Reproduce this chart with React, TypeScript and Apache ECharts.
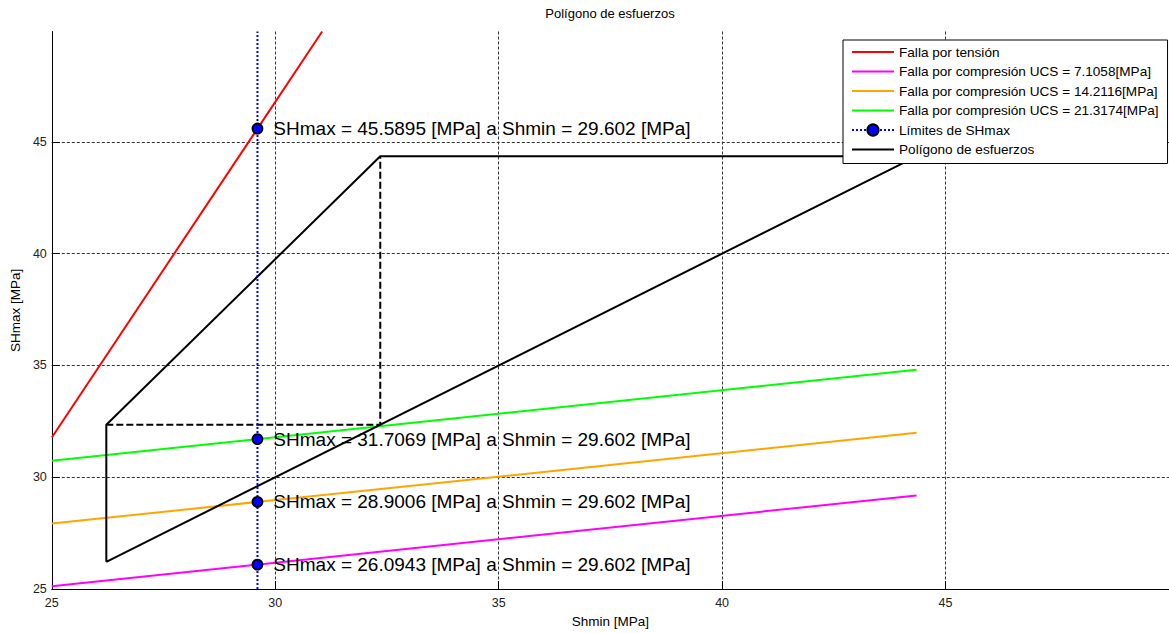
import React, { useEffect, useRef } from "react";
import * as echarts from "echarts";

// ---- data ----
const titleText = "Polígono de esfuerzos";
const xName = "Shmin [MPa]";
const yName = "SHmax [MPa]";
const xTicks = [25, 30, 35, 40, 45];
const yTicks = [25, 30, 35, 40, 45];
const xMin = 25;
const xMax = 50;
const yMin = 25;
const yMax = 49.93;

const tensionName = "Falla por tensión";
const tensionX = [25, 31.05];
const tensionY = [31.78, 49.93];

const compNames = [
  "Falla por compresión UCS = 7.1058[MPa]",
  "Falla por compresión UCS = 14.2116[MPa]",
  "Falla por compresión UCS = 21.3174[MPa]",
];
const compX = [25, 44.35];
const ucs7Y = [25.13, 29.19];
const ucs14Y = [27.93, 31.99];
const ucs21Y = [30.74, 34.81];
const compColors = ["#ff00ff", "#ffa500", "#00ff00"];

const limitsName = "Límites de SHmax";
const shminRef = 29.602;
const shmaxLimits = [26.0943, 28.9006, 31.7069, 45.5895];
const limitsLineY = [25, 49.93];

const polyName = "Polígono de esfuerzos";
const polyX = [26.22, 26.22, 32.35, 44.35, 26.22];
const polyY = [26.22, 32.35, 44.35, 44.35, 26.22];
const dashX = [26.22, 32.35, 32.35];
const dashY = [32.35, 32.35, 44.35];

const regionNames = ["FL", "FI", "FN"];
const regionX = [30.43, 33.04, 26.65];
const regionY = [39.55, 43.18, 29.88];

const FONT = "'Liberation Sans', Arial, Helvetica, sans-serif";
const LINE_ICON = "path://M0,0H42V2H0Z";

const pairs = (xs: number[], ys: number[]) => xs.map((x, i) => [x, ys[i]]);

export default function App() {
  const ref = useRef<HTMLDivElement>(null);

  useEffect(() => {
    if (!ref.current) return;
    const chart = echarts.init(ref.current, undefined, { renderer: "svg" });

    const limitsData: any[] = [
      { value: [shminRef, limitsLineY[0]], symbol: "none", label: { show: false } },
      ...shmaxLimits.map((v) => ({
        value: [shminRef, v],
        label: {
          show: true,
          position: "right",
          distance: 10,
          formatter: `SHmax = ${v} [MPa] a Shmin = ${shminRef} [MPa]`,
          fontSize: 19,
          color: "#000",
          fontFamily: FONT,
        },
      })),
      { value: [shminRef, limitsLineY[1]], symbol: "none", label: { show: false } },
    ];

    const compYs = [ucs7Y, ucs14Y, ucs21Y];

    const splitLine = {
      show: true,
      showMinLine: false,
      lineStyle: { type: [3, 2], color: "#333", width: 1 },
    };
    const tickStyle = { show: true, inside: true, length: 8, lineStyle: { color: "#000" } };

    chart.setOption({
      animation: false,
      textStyle: { fontFamily: FONT },
      title: {
        text: titleText,
        left: 610,
        top: 7,
        textAlign: "center",
        padding: 0,
        textStyle: { fontSize: 13, fontWeight: "normal", color: "#000", fontFamily: FONT },
      },
      grid: { left: 51.7, top: 31.5, width: (xMax - xMin) * 44.87, height: 561.8, containLabel: false },
      xAxis: {
        type: "value",
        min: xMin,
        max: xMax,
        interval: 5,
        name: xName,
        nameLocation: "middle",
        nameGap: 22,
        nameTextStyle: { fontSize: 13.5, color: "#000", fontFamily: FONT },
        axisLine: { show: true, lineStyle: { color: "#000", width: 1 } },
        axisTick: { ...tickStyle, customValues: xTicks },
        axisLabel: { margin: 7, fontSize: 12.5, color: "#222", customValues: xTicks, fontFamily: FONT },
        splitLine,
      },
      yAxis: {
        type: "value",
        min: yMin,
        max: yMax,
        interval: 5,
        name: yName,
        nameLocation: "middle",
        nameGap: 23,
        nameTextStyle: { fontSize: 13.5, color: "#000", fontFamily: FONT },
        axisLine: { show: true, lineStyle: { color: "#000", width: 1 } },
        axisTick: { ...tickStyle, customValues: yTicks },
        axisLabel: { margin: 5, fontSize: 12.5, color: "#222", customValues: yTicks, fontFamily: FONT },
        splitLine,
      },
      legend: {
        data: [
          { name: tensionName, icon: LINE_ICON },
          ...compNames.map((n) => ({ name: n, icon: LINE_ICON })),
          { name: limitsName },
          { name: polyName, icon: LINE_ICON },
        ],
        orient: "vertical",
        left: 843,
        top: 40,
        padding: [5, 9, 7, 8],
        itemWidth: 42,
        itemHeight: 14,
        itemGap: 5.5,
        backgroundColor: "#fff",
        borderColor: "#000",
        borderWidth: 1,
        borderRadius: 0,
        textStyle: { fontSize: 13.6, color: "#000", fontFamily: FONT },
        z: 10,
      },
      series: [
        {
          name: tensionName,
          type: "line",
          data: pairs(tensionX, tensionY),
          symbol: "none",
          lineStyle: { color: "#ff0000", width: 2 },
          itemStyle: { color: "#ff0000" },
        },
        ...compNames.map((n, i) => ({
          name: n,
          type: "line",
          data: pairs(compX, compYs[i]),
          symbol: "none",
          lineStyle: { color: compColors[i], width: 2 },
          itemStyle: { color: compColors[i] },
        })),
        {
          name: polyName,
          type: "line",
          data: pairs(polyX, polyY),
          symbol: "none",
          lineStyle: { color: "#000", width: 2 },
          itemStyle: { color: "#000" },
        },
        {
          name: "dashed",
          type: "line",
          data: pairs(dashX, dashY),
          symbol: "none",
          lineStyle: { color: "#000", width: 2, type: [7, 3] },
          itemStyle: { color: "#000" },
        },
        {
          name: limitsName,
          type: "line",
          z: 5,
          data: limitsData,
          symbol: "circle",
          symbolSize: 10,
          showAllSymbol: true,
          lineStyle: { color: "#0000ff", width: 2, type: [2, 2] },
          itemStyle: { color: "#0000ff", borderColor: "#000", borderWidth: 1.8 },
        },
        {
          name: "regions",
          type: "scatter",
          symbolSize: 1,
          itemStyle: { opacity: 0 },
          data: regionNames.map((n, i) => ({
            value: [regionX[i], regionY[i]],
            name: n,
          })),
          label: {
            show: true,
            position: "inside",
            formatter: (p: any) => p.name,
            fontSize: 7,
            color: "#444",
            fontFamily: FONT,
          },
        },
      ],
    });

    return () => chart.dispose();
  }, []);

  return (
    <div
      ref={ref}
      style={{ position: "fixed", left: 0, top: 0, width: 1169, height: 633, background: "#fff" }}
    />
  );
}
